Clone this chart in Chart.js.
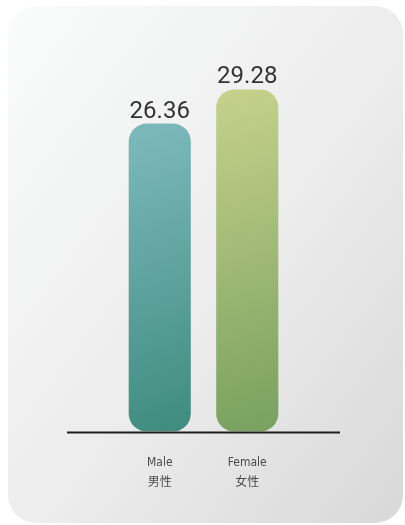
<!DOCTYPE html>
<html>
<head>
<meta charset="utf-8">
<script src="https://cdn.jsdelivr.net/npm/chart.js@4"></script>
<style>
  html, body { margin: 0; padding: 0; background: #ffffff; }
  #wrap { position: relative; width: 405px; height: 525px; }
  #card {
    position: absolute; left: 8px; top: 6px; width: 395px; height: 517px;
    border-radius: 28px;
    background: linear-gradient(to bottom right, #fafbfb 0%, #ececec 55%, #d8d8d8 100%);
  }
  #chart { position: absolute; left: 0; top: 0; }
</style>
</head>
<body>
<div id="wrap">
  <div id="card"></div>
  <canvas id="chart" width="405" height="525"></canvas>
</div>
<script>
const categories = [['Male', '男性'], ['Female', '女性']];
const values = [26.36, 29.28];
const topColors = ['#80bbbf', '#c9d38c'];
const bottomColors = ['#3e8b7d', '#77a05f'];

// gradient fill for each bar, top-left to bottom-right
function barGradient(context) {
  const chart = context.chart;
  const i = context.dataIndex;
  if (!chart.chartArea || !chart.scales.x) return topColors[i];
  const x = chart.scales.x.getPixelForValue(i);
  const top = chart.scales.y.getPixelForValue(values[i]);
  const bottom = chart.scales.y.getPixelForValue(0);
  const g = chart.ctx.createLinearGradient(x - 60, top, x + 40, bottom);
  g.addColorStop(0, topColors[i]);
  g.addColorStop(1, bottomColors[i]);
  return g;
}

// value labels above bars and the black base line
const decorations = {
  id: 'decorations',
  afterDatasetsDraw(chart) {
    const ctx = chart.ctx;
    const area = chart.chartArea;
    const y0 = chart.scales.y.getPixelForValue(0);
    ctx.save();
    ctx.strokeStyle = '#1e1e1e';
    ctx.lineWidth = 2;
    ctx.beginPath();
    ctx.moveTo(area.left - 49, y0 + 1);
    ctx.lineTo(area.right + 49, y0 + 1);
    ctx.stroke();

    ctx.fillStyle = '#333333';
    ctx.font = '24px Roboto, "Liberation Sans", sans-serif';
    ctx.textAlign = 'center';
    ctx.textBaseline = 'alphabetic';
    chart.getDatasetMeta(0).data.forEach((bar, i) => {
      ctx.fillText(values[i].toFixed(2), bar.x, bar.y - 6);
    });
    ctx.restore();
  }
};

new Chart(document.getElementById('chart').getContext('2d'), {
  type: 'bar',
  data: {
    labels: categories,
    datasets: [{
      data: values,
      backgroundColor: barGradient,
      borderRadius: 18,
      borderSkipped: false,
      categoryPercentage: 0.71,
      barPercentage: 1
    }]
  },
  options: {
    responsive: false,
    animation: false,
    layout: { padding: { left: 116, right: 114, top: 81, bottom: 11 } },
    plugins: { legend: { display: false }, tooltip: { enabled: false } },
    scales: {
      x: {
        grid: { display: false, drawTicks: false },
        border: { display: false },
        ticks: {
          padding: 22,
          color: '#4a4a4a',
          font: { family: '"DejaVu Sans Condensed", "Noto Sans CJK SC", sans-serif', size: 12, lineHeight: 1.6 },
          maxRotation: 0
        }
      },
      y: {
        display: false,
        min: 0,
        max: 30
      }
    }
  },
  plugins: [decorations]
});
</script>
</body>
</html>
